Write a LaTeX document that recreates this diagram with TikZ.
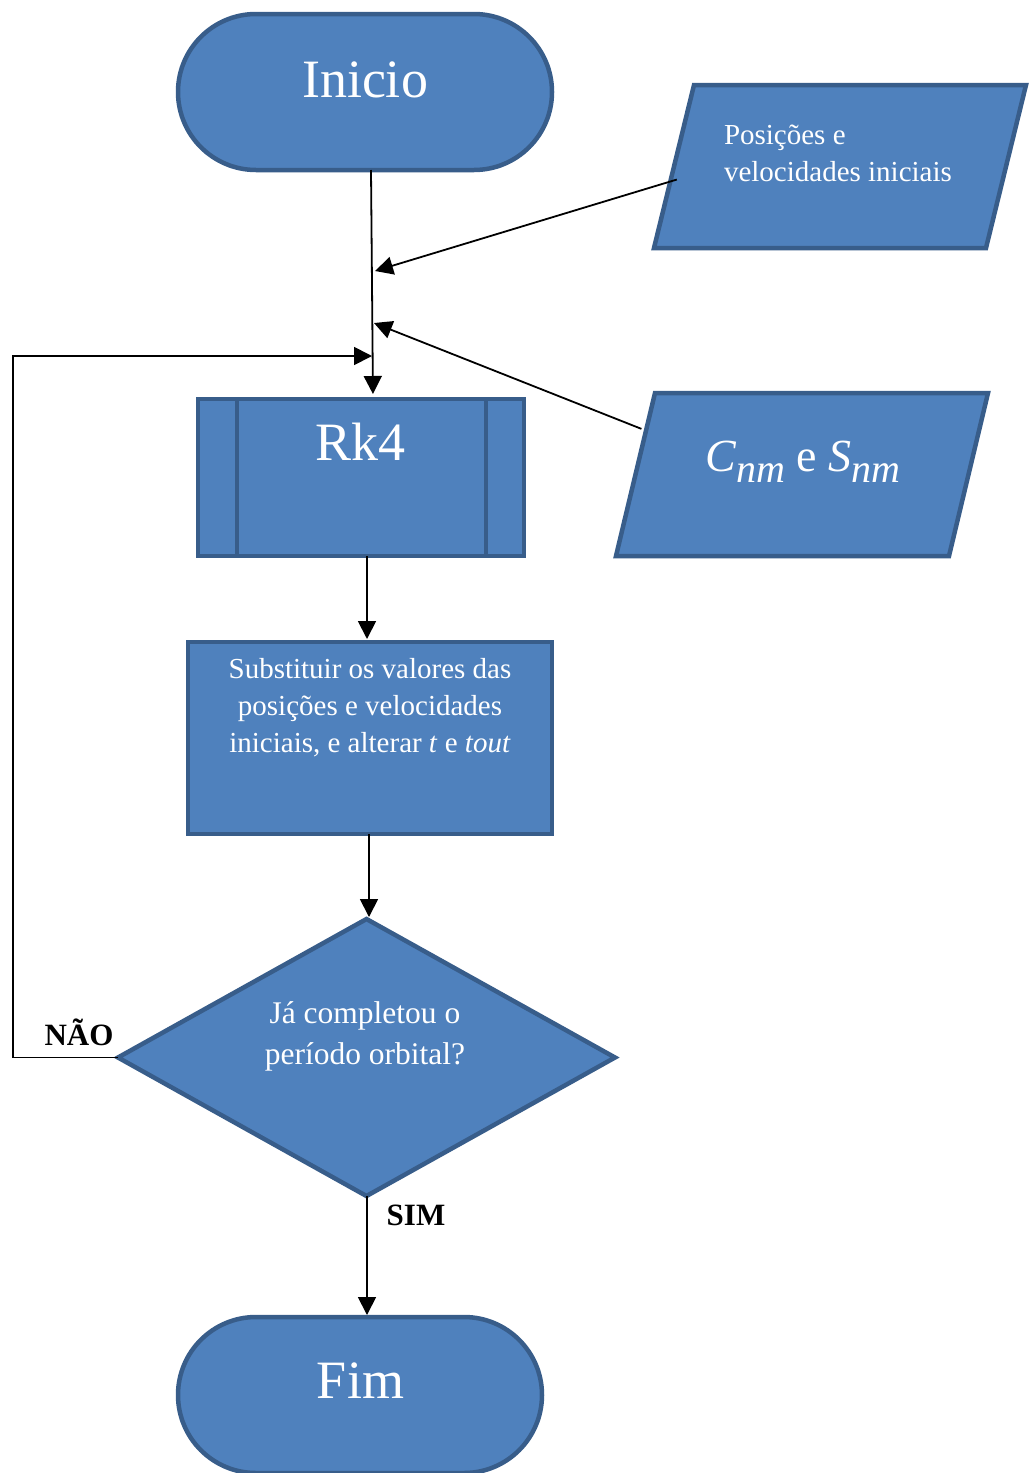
\documentclass[tikz,border=0pt]{standalone}
\usepackage{fontspec}
\setmainfont{Liberation Serif}
\usetikzlibrary{shapes.geometric,shapes.misc,arrows.meta,calc}
\definecolor{fillblue}{HTML}{4F81BD}
\definecolor{edgeblue}{HTML}{385D8A}
\begin{document}
\begin{tikzpicture}[x=1pt,y=-1pt,
  shapebase/.style={draw=edgeblue, fill=fillblue, line width=4.5pt, inner sep=0pt, outer sep=0pt},
  terminal/.style={shapebase, rounded rectangle, minimum width=374pt, minimum height=156pt},
  procbox/.style={shapebase, rectangle},
  decision/.style={shapebase, diamond, minimum width=497pt, minimum height=277pt},
  ioframe/.style={rectangle, draw=none, inner sep=0pt, outer sep=0pt, minimum width=372pt, minimum height=163pt},
  iofill/.style={draw=edgeblue, fill=fillblue, line width=4.5pt, line join=miter},
  txt/.style={text=white, inner sep=0pt, outer sep=0pt},
  bigtxt/.style={txt, font=\fontsize{54}{60}\selectfont},
  midtxt/.style={txt, font=\fontsize{29}{37}\selectfont},
  lbl/.style={text=black, inner sep=0pt, font=\bfseries\fontsize{31}{36}\selectfont},
  conn/.style={draw=black, line width=1.8pt, -{Triangle[length=18pt,width=18pt]}}
]
\useasboundingbox (0,0) rectangle (1030,1473);
\fill[white] (0,0) rectangle (1030,1473);

% shapes
\node[terminal] (inicio) at (365,92) {};
\node[bigtxt, anchor=base] (inicio-t) at (365,97) {Inicio};

\node[ioframe] (pos) at (840,166.5) {};
\coordinate (pos-tl) at ([xshift=40pt]pos.north west);
\coordinate (pos-br) at ([xshift=-40pt]pos.south east);
\path[iofill] (pos-tl) -- (pos.north east) -- (pos-br) -- (pos.south west) -- cycle;
\node[midtxt, anchor=base west, align=left] (pos-t) at (724,181) {Posições e\\velocidades iniciais};

\node[procbox, minimum width=326pt, minimum height=157pt] (rk4) at (361,477.5) {};
\draw[edgeblue, line width=4.5pt] ([xshift=39pt]rk4.north west) -- ([xshift=39pt]rk4.south west);
\draw[edgeblue, line width=4.5pt] ([xshift=-38pt]rk4.north east) -- ([xshift=-38pt]rk4.south east);
\node[bigtxt, anchor=base] (rk4-t) at (360.5,460) {Rk4};

\node[ioframe] (cnm) at (802,474.5) {};
\coordinate (cnm-tl) at ([xshift=39pt]cnm.north west);
\coordinate (cnm-br) at ([xshift=-39pt]cnm.south east);
\path[iofill] (cnm-tl) -- (cnm.north east) -- (cnm-br) -- (cnm.south west) -- cycle;
\node[txt, anchor=base, font=\fontsize{46}{50}\selectfont] (cnm-t) at (803,471)
  {\textit{C}\raisebox{-11pt}{\fontsize{40}{44}\selectfont\textit{nm}} e \textit{S}\raisebox{-11pt}{\fontsize{40}{44}\selectfont\textit{nm}}};

\node[procbox, minimum width=364pt, minimum height=192pt] (sub) at (370,738) {};
\node[midtxt, anchor=base, align=center] (sub-t) at (370,752)
  {Substituir os valores das\\posições e velocidades\\iniciais, e alterar \textit{t} e \textit{tout}};

\node[decision] (dia) at (366.5,1057.5) {};
\node[txt, anchor=base, align=center, font=\fontsize{31.5}{41}\selectfont] (dia-t) at (365,1064)
  {Já completou o\\período orbital?};

\node[terminal, minimum width=364pt] (fim) at (360,1395) {};
\node[bigtxt, anchor=base] (fim-t) at (360.5,1398) {Fim};

% labels
\node[lbl, anchor=base] (nao) at (79,1045) {NÃO};
\node[lbl, anchor=base] (sim) at (416,1225) {SIM};

% connector end points
\coordinate (m1) at (375,271);
\coordinate (m2) at (374,323);
\coordinate (m3) at (372,356);
\coordinate (lp) at (13,1057.5);

% connectors
\draw[conn, shorten >=5pt] ([xshift=6pt]inicio.south) -- ([xshift=12pt]rk4.north);
\draw[conn] ($(pos-tl)!0.58!(pos.south west)+(6,0)$) -- (m1);
\draw[conn] ($(cnm-tl)!0.22!(cnm.south west)+(-5,0)$) -- (m2);
\draw[conn] (dia.west) -- (lp) |- (m3);
\draw[conn, shorten >=3pt] ([xshift=6pt]rk4.south) -- ([xshift=-3pt]sub.north);
\draw[conn, shorten >=2pt] ([xshift=-1pt]sub.south) -- ([xshift=2.5pt]dia.north);
\draw[conn, shorten >=2pt] ([xshift=0.5pt]dia.south) -- ([xshift=7pt]fim.north);
\end{tikzpicture}
\end{document}
